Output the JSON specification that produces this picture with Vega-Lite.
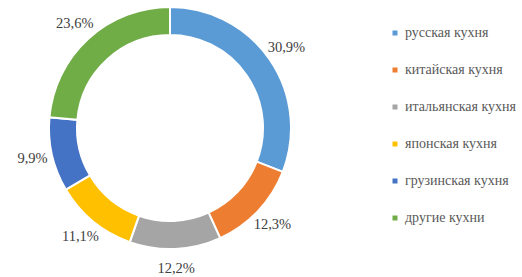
{
  "$schema": "https://vega.github.io/schema/vega-lite/v6.json",
  "width": 340,
  "height": 256,
  "padding": 0,
  "background": "white",
  "data": {
    "values": [
      {"idx": 1, "cuisine": "русская кухня", "value": 30.9, "label": "30,9%"},
      {"idx": 2, "cuisine": "китайская кухня", "value": 12.3, "label": "12,3%"},
      {"idx": 3, "cuisine": "итальянская кухня", "value": 12.2, "label": "12,2%"},
      {"idx": 4, "cuisine": "японская кухня", "value": 11.1, "label": "11,1%"},
      {"idx": 5, "cuisine": "грузинская кухня", "value": 9.9, "label": "9,9%"},
      {"idx": 6, "cuisine": "другие кухни", "value": 23.6, "label": "23,6%"}
    ]
  },
  "encoding": {
    "theta": {"field": "value", "type": "quantitative", "stack": true},
    "order": {"field": "idx", "type": "quantitative"}
  },
  "layer": [
    {
      "mark": {"type": "arc", "outerRadius": 121, "innerRadius": 93, "stroke": "white", "strokeWidth": 2},
      "encoding": {
        "color": {
          "field": "cuisine",
          "type": "nominal",
          "scale": {
            "domain": ["русская кухня", "китайская кухня", "итальянская кухня", "японская кухня", "грузинская кухня", "другие кухни"],
            "range": ["#5B9BD5", "#ED7D31", "#A5A5A5", "#FFC000", "#4472C4", "#70AD47"]
          },
          "legend": {
            "title": null,
            "orient": "none",
            "legendX": 388,
            "legendY": 26,
            "symbolType": "square",
            "symbolSize": 25,
            "symbolStrokeWidth": 0,
            "labelFont": "'Liberation Serif', 'Times New Roman', serif",
            "labelFontSize": 14,
            "labelColor": "#595959",
            "labelOffset": 3,
            "rowPadding": 23
          }
        }
      }
    },
    {
      "mark": {"type": "text", "radius": 141, "font": "'Liberation Serif', 'Times New Roman', serif", "fontSize": 14.5, "color": "#404040", "align": "center", "baseline": "middle"},
      "encoding": {
        "text": {"field": "label", "type": "nominal"}
      }
    }
  ],
  "config": {"view": {"stroke": null}}
}
